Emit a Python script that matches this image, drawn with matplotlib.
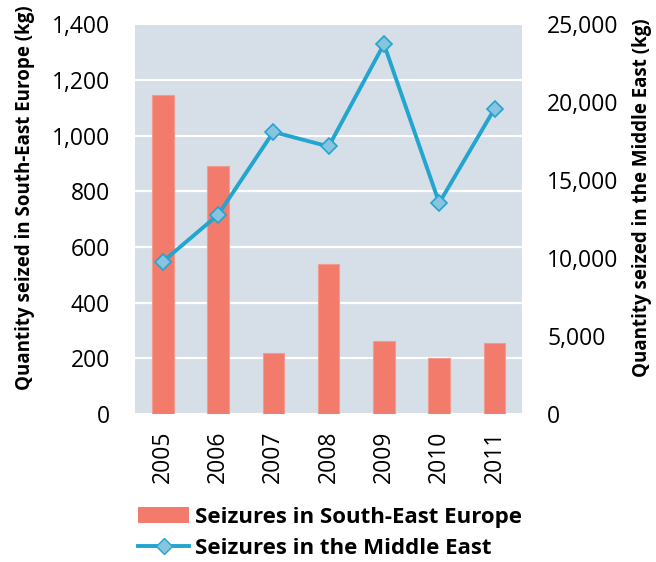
import matplotlib.pyplot as plt
from matplotlib.patches import Patch
from matplotlib.lines import Line2D
from matplotlib.ticker import FuncFormatter

plt.rcParams['font.family'] = ['Open Sans', 'DejaVu Sans']

years = ['2005', '2006', '2007', '2008', '2009', '2010', '2011']
see_kg = [1145, 892, 219, 539, 263, 203, 254]            # South-East Europe
me_kg = [9780, 12780, 18090, 17160, 23720, 13540, 19580]  # Middle East

bar_col = '#F27B6C'
line_col = '#22A5CF'
marker_col = '#88C3E0'
bg_col = '#D6DEE8'

fig = plt.figure(figsize=(6.56, 5.62), dpi=100)
ax = fig.add_axes([0.206, 0.263, 0.590, 0.694])
ax.set_facecolor(bg_col)

x = range(len(years))
ax.bar(x, see_kg, width=0.39, color=bar_col, edgecolor='#F29C90', linewidth=0.8, zorder=2)
ax.set_xlim(-0.5, len(years) - 0.5)
ax.set_ylim(0, 1400)
ax.set_yticks(range(0, 1401, 200))
ax.grid(axis='y', color='white', linewidth=1.6, zorder=1)
ax.set_axisbelow(True)
ax.set_xticks(list(x))
ax.set_xticklabels(years, rotation=90)
fmt = FuncFormatter(lambda v, p: f'{int(v):,}')
ax.yaxis.set_major_formatter(fmt)
ax.tick_params(axis='y', length=0, labelsize=16.5, pad=18)
ax.tick_params(axis='x', length=0, labelsize=16.5, pad=12)
for s in ax.spines.values():
    s.set_visible(False)
ax.set_ylabel('Quantity seized in South-East Europe (kg)', fontsize=13.5,
              fontweight='bold')
ax.yaxis.set_label_coords(-0.258, 0.554)

ax2 = ax.twinx()
ax2.plot(list(x), me_kg, color=line_col, linewidth=2.8, marker='D', markersize=8,
         markerfacecolor=marker_col, markeredgecolor=line_col, markeredgewidth=1.2, zorder=3)
ax2.set_ylim(0, 25000)
ax2.set_yticks(range(0, 25001, 5000))
ax2.yaxis.set_major_formatter(fmt)
ax2.tick_params(axis='y', length=0, labelsize=16.5, pad=18)
for s in ax2.spines.values():
    s.set_visible(False)
ax2.set_ylabel('Quantity seized in the Middle East (kg)', fontsize=13.5,
               fontweight='bold')
ax2.yaxis.set_label_coords(1.284, 0.554)

handles = [
    Patch(facecolor=bar_col, edgecolor='none'),
    Line2D([], [], color=line_col, linewidth=2.8, marker='D', markersize=8,
           markerfacecolor=marker_col, markeredgecolor=line_col),
]
labels = ['Seizures in South-East Europe', 'Seizures in the Middle East']
fig.legend(handles, labels, loc='lower left', bbox_to_anchor=(0.18, -0.03),
           frameon=False, prop={'size': 16, 'weight': 'bold'},
           handlelength=2.3, handletextpad=0.25, labelspacing=0.45)

fig.savefig('out.png', dpi=100)
